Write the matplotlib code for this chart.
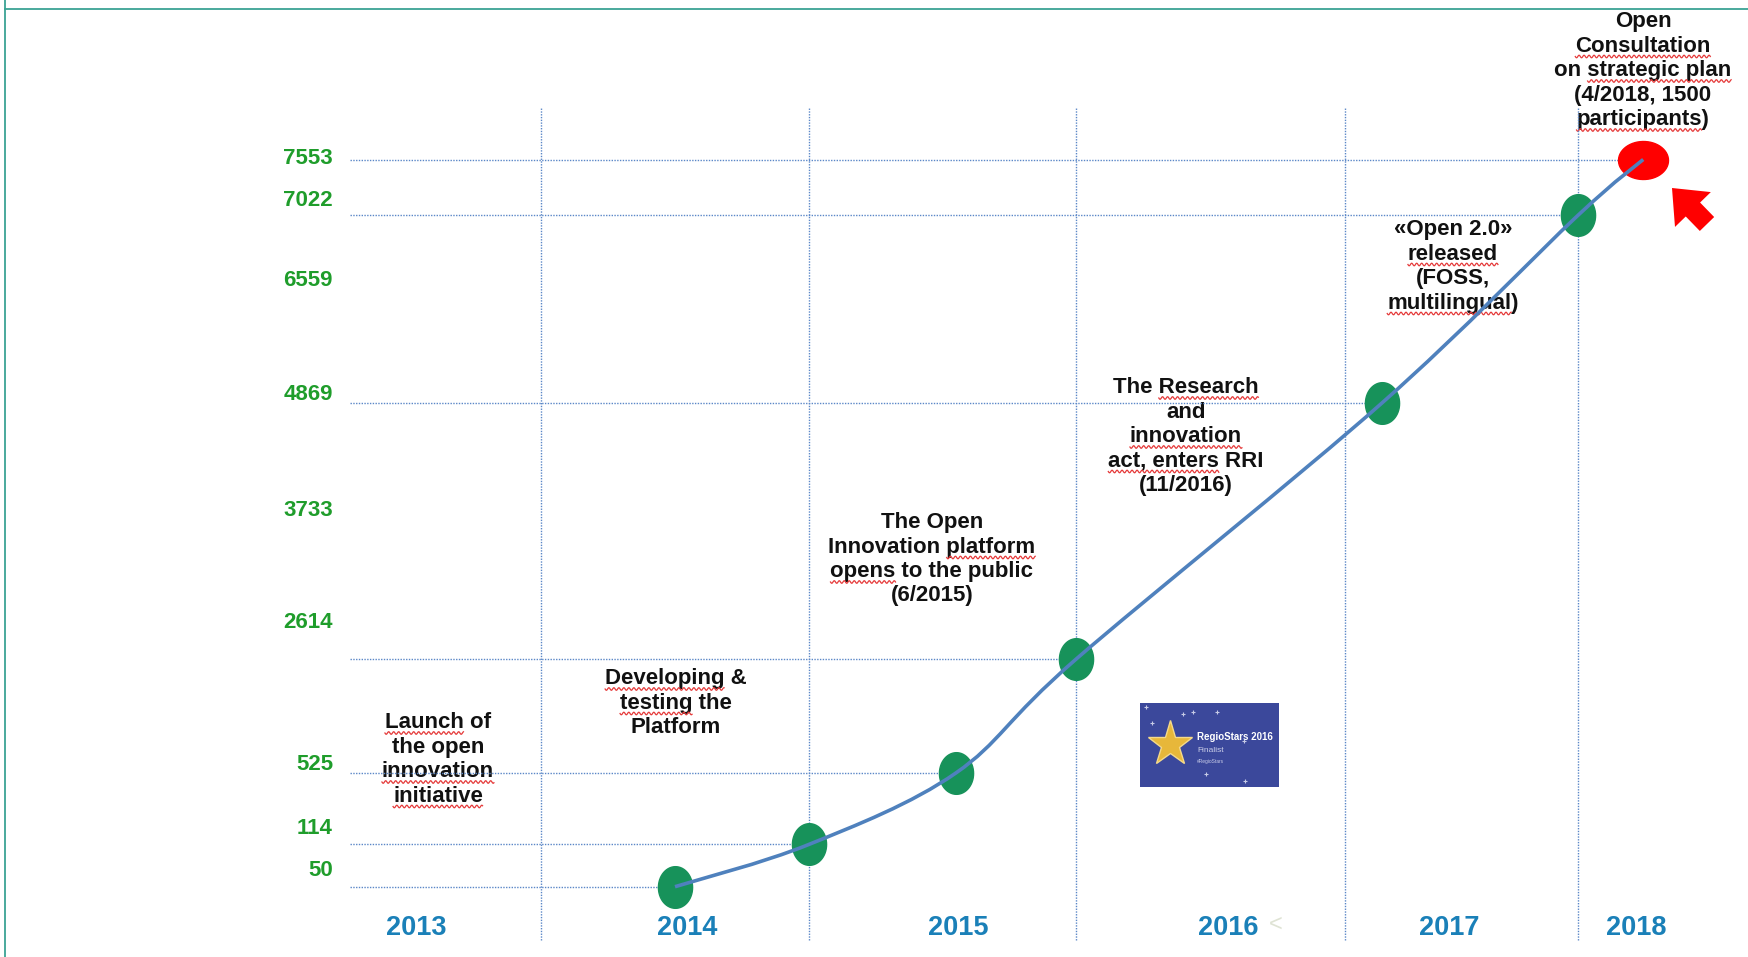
import numpy as np
import matplotlib
matplotlib.use("Agg")
import matplotlib.pyplot as plt
from matplotlib.path import Path
from matplotlib.patches import PathPatch, Rectangle, FancyArrow
from matplotlib.transforms import IdentityTransform

# --- data -------------------------------------------------------------------
dates = [2014.5, 2015.0, 2015.55, 2016.0, 2017.16, 2018.0, 2018.28]
members = [50, 114, 525, 2614, 4869, 7022, 7553]
axis_values = [7553, 7022, 6559, 4869, 3733, 2614, 525, 114, 50]
years = [2013, 2014, 2015, 2016, 2017, 2018]
year_bounds = [2014, 2015, 2016, 2017, 2018]
milestones = [
    ["Launch of", "the open", "innovation", "initiative"],
    ["Developing &", "testing the", "Platform"],
    ["The Open", "Innovation platform", "opens to the public", "(6/2015)"],
    ["The Research", "and", "innovation", "act, enters RRI", "(11/2016)"],
    ["\u00abOpen 2.0\u00bb", "released", "(FOSS,", "multilingual)"],
    ["Open", "Consultation", "on strategic plan", "(4/2018, 1500", "participants)"],
]
# words carrying the spell-check squiggle: (milestone, line, word)
squiggles = [
    (0, 0, "Launch"), (0, 2, "innovation"), (0, 3, "initiative"),
    (1, 0, "Developing"), (1, 1, "testing"),
    (2, 1, "platform"), (2, 2, "opens"),
    (3, 0, "Research"), (3, 2, "innovation"), (3, 3, "act, enters"),
    (4, 1, "released"), (4, 3, "multilingual"),
    (5, 1, "Consultation"), (5, 2, "strategic plan"), (5, 4, "participants"),
]

# --- layout (pixels, from top-left) -----------------------------------------
W, H = 1749, 957
x_knot_px = [541, 809, 1076, 1345, 1578]           # where year boundaries sit
y_knot_px = [886.7, 844.4, 773, 659.2, 402.7, 215.3, 159.5]  # hand-placed value axis
label_y_px = [158, 201, 281, 395, 511, 622, 765, 828, 870]
year_x_px = [416, 687, 958, 1228, 1449, 1636]
milestone_x = [438, 676, 932, 1186, 1453, 1643]
milestone_base = [728, 684, 528, 393, 235, 27]      # baseline of first line
LINE_H = 24.5

GREEN = "#1f9d2b"
BLUE = "#1a80b8"
GRID = "#5b87c7"
LINE = "#4f81bd"
FONT = "Liberation Sans"


def piecewise(src, dst):
    src = np.asarray(src, float)
    dst = np.asarray(dst, float)

    def f(v):
        v = np.asarray(v, float)
        out = np.interp(v, src, dst)
        lo_slope = (dst[1] - dst[0]) / (src[1] - src[0])
        hi_slope = (dst[-1] - dst[-2]) / (src[-1] - src[-2])
        out = np.where(v < src[0], dst[0] + (v - src[0]) * lo_slope, out)
        out = np.where(v > src[-1], dst[-1] + (v - src[-1]) * hi_slope, out)
        return out
    return f


fx = piecewise(year_bounds, x_knot_px)
fx_inv = piecewise(x_knot_px, year_bounds)
y_up = [H - p for p in y_knot_px]
fy = piecewise(members, y_up)
fy_inv = piecewise(y_up, members)

fig = plt.figure(figsize=(W / 100, H / 100), dpi=100)
canvas = fig.add_axes([0, 0, 1, 1])
canvas.set_xlim(0, W)
canvas.set_ylim(H, 0)
canvas.axis("off")

ax = fig.add_axes([0, 0, 1, 1])
ax.set_xscale("function", functions=(fx, fx_inv))
ax.set_yscale("function", functions=(fy, fy_inv))
ax.set_xlim(float(fx_inv(0)), float(fx_inv(W)))
ax.set_ylim(float(fy_inv(0)), float(fy_inv(H)))
ax.axis("off")
ax.patch.set_alpha(0)

# frame lines
canvas.plot([5, 5], [0, H], color="#3aa394", lw=1.3)
canvas.plot([5, W], [9, 9], color="#3aa394", lw=1.3)

# grid
x_left = float(fx_inv(350))
ax.hlines(members, x_left, dates, color=GRID, lw=1.0, linestyle=(0, (1, 1)), zorder=1)
ax.vlines(year_bounds, float(fy_inv(H - 940)), float(fy_inv(H - 108)),
          color=GRID, lw=1.0, linestyle=(0, (1, 1)), zorder=1)

# smooth line through the points (Catmull-Rom -> cubic Bezier, display space)
fig.canvas.draw()
pts = ax.transData.transform(np.column_stack([dates, members]))
ext = np.vstack([pts[0], pts, pts[-1]])
verts = [pts[0]]
codes = [Path.MOVETO]
for i in range(1, len(ext) - 2):
    p0, p1, p2, p3 = ext[i - 1], ext[i], ext[i + 1], ext[i + 2]
    verts += [p1 + (p2 - p0) / 6, p2 - (p3 - p1) / 6, p2]
    codes += [Path.CURVE4] * 3
fig.add_artist(PathPatch(Path(verts, codes), facecolor="none", edgecolor=LINE,
                         lw=2.6, transform=IdentityTransform(), zorder=2))

# ellipse markers
t = np.linspace(0, 2 * np.pi, 60)
tall = Path(np.column_stack([0.82 * np.cos(t), np.sin(t)]), closed=True)
wide = Path(np.column_stack([np.cos(t), 0.76 * np.sin(t)]), closed=True)
ax.plot(dates[:-1], members[:-1], linestyle="none", marker=tall, markersize=30,
        color="#17925a", zorder=3)
ax.plot(dates[-1:], members[-1:], linestyle="none", marker=wide, markersize=36,
        color="#ff0000", zorder=3)

# value labels
for v, y in zip(axis_values, label_y_px):
    canvas.text(333, y, str(v), ha="right", va="center", color=GREEN,
                fontsize=16, fontweight="bold", family=FONT)

# year labels
for yr, x in zip(years, year_x_px):
    canvas.text(x, 928, str(yr), ha="center", va="center", color=BLUE,
                fontsize=19.5, fontweight="bold", family=FONT)
canvas.text(1276, 925, "<", ha="center", va="center", color="#dfe3d4",
            fontsize=17, family=FONT)

# milestone texts, one line at a time so the squiggles can be placed
renderer = fig.canvas.get_renderer()
style = dict(color="#111111", fontsize=16, fontweight="bold", family=FONT)


def text_width(s):
    tmp = canvas.text(0, 0, s, **style)
    w = tmp.get_window_extent(renderer).width
    tmp.remove()
    return w


for m, (lines, x, y0) in enumerate(zip(milestones, milestone_x, milestone_base)):
    for i, line in enumerate(lines):
        canvas.text(x, y0 + i * LINE_H, line, ha="center", va="baseline",
                    zorder=4, **style)

for m, i, word in squiggles:
    line = milestones[m][i]
    start = line.index(word)
    left = milestone_x[m] - text_width(line) / 2
    x0 = left + text_width(line[:start + len(word)]) - text_width(word)
    x1 = x0 + text_width(word)
    xs = np.arange(x0, x1, 0.5)
    ys = milestone_base[m] + i * LINE_H + 5 + 1.3 * np.sin((xs - x0) * 2 * np.pi / 5)
    canvas.plot(xs, ys, color="#e53a3a", lw=0.9, zorder=4)

# red arrow
canvas.add_patch(FancyArrow(1707, 224, -35, -36, width=20, head_width=50, head_length=30,
                            length_includes_head=True, color="#ff0000", lw=0))

# RegioStars badge
canvas.add_patch(Rectangle((1140, 703), 139, 84, facecolor="#3b489b", edgecolor="none"))
for sx, sy in [(1146, 707), (1183, 714), (1217, 712), (1244, 741), (1152, 723),
               (1206, 774), (1245, 781), (1193, 712)]:
    canvas.plot(sx, sy, marker="+", color="#c7cbe6", markersize=3, mew=0.8)
canvas.plot(1170, 744, marker="*", color="#e7b73a", markersize=34, mec="#f4d98a", mew=1)
canvas.text(1197, 737, "RegioStars 2016", color="white", fontsize=7, fontweight="bold",
            va="center", family=FONT)
canvas.text(1197, 751, "Finalist", color="#c9cde8", fontsize=6, va="center", family=FONT)
canvas.text(1197, 761, "#RegioStars", color="#c9cde8", fontsize=3.5, va="center", family=FONT)

fig.savefig("out.png", dpi=100)
